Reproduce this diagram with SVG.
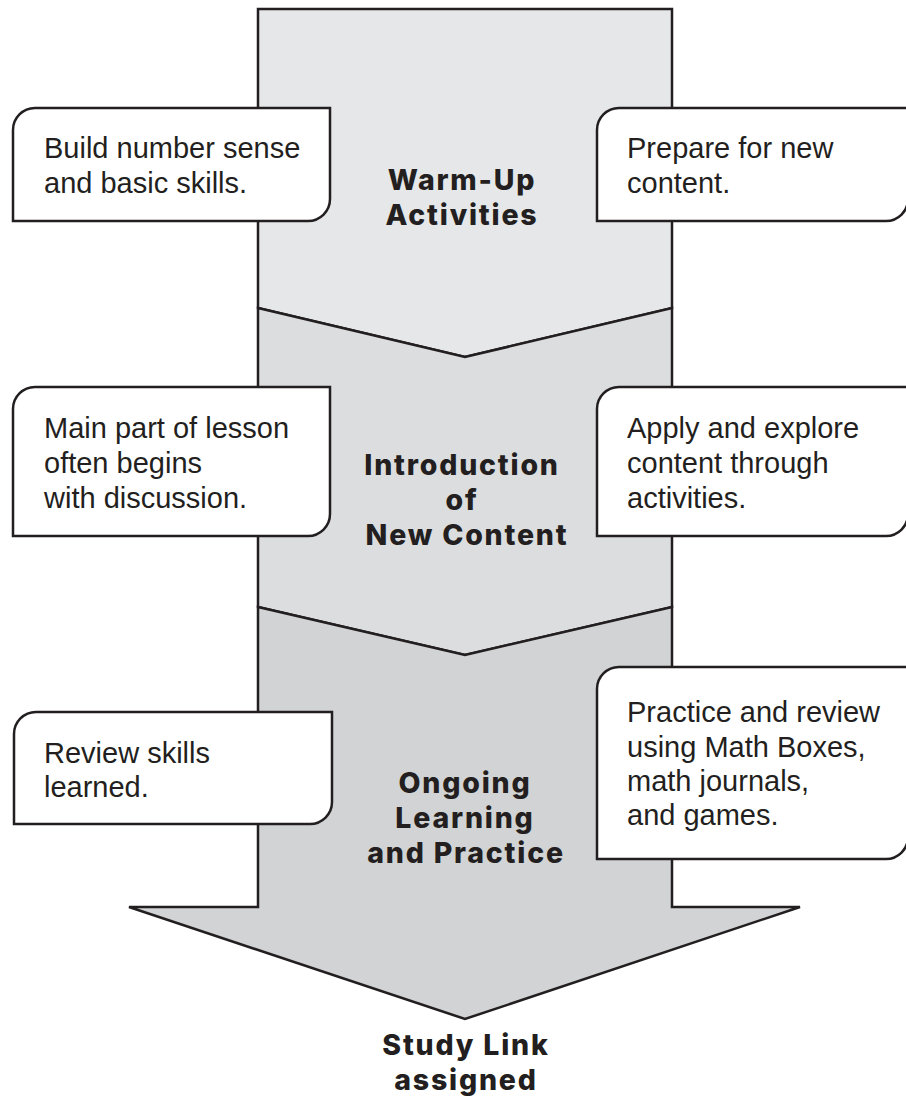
<svg xmlns="http://www.w3.org/2000/svg" width="906" height="1097" viewBox="0 0 906 1097">
<style>
.sec{stroke:#231f20;stroke-width:2.5;stroke-linejoin:miter}
.box{fill:#ffffff;stroke:#231f20;stroke-width:2.5}
.t{font-family:"Liberation Sans",Arial,sans-serif;font-size:29px;fill:#231f20}
.h{font-family:Inter,"Open Sans",sans-serif;font-weight:800;font-size:28.5px;letter-spacing:1.8px;fill:#231f20;text-anchor:middle}
</style>
<rect width="906" height="1097" fill="#ffffff"/>
<g id="column">
<g id="warmup">
<path class="sec" fill="#e6e7e8" d="M258,9 L672,9 L672,308 L465,357 L258,308 Z"/>
<text class="h" x="462" y="190">Warm-Up</text>
<text class="h" x="462" y="225">Activities</text>
</g>
<g id="intro">
<path class="sec" fill="#dcdddf" d="M258,308 L465,357 L672,308 L672,607 L465,655 L258,607 Z"/>
<text class="h" x="462" y="475">Introduction</text>
<text class="h" x="462" y="510">of</text>
<text class="h" x="467" y="545">New Content</text>
</g>
<g id="ongoing">
<path class="sec" fill="#d1d3d4" d="M258,607 L465,655 L672,607 L672,907 L800,907 L465,1019 L129,907 L258,907 Z"/>
<text class="h" x="465" y="793">Ongoing</text>
<text class="h" x="465" y="828">Learning</text>
<text class="h" x="466" y="863">and Practice</text>
</g>
</g>
<g id="connectors"></g>
<g id="studylink">
<text class="h" x="466" y="1055">Study Link</text>
<text class="h" x="466" y="1090">assigned</text>
</g>
<g id="box-build">
<path class="box" d="M13,221 L13,130 A22,22 0 0 1 35,108 L330,108 L330,199 A22,22 0 0 1 308,221 Z"/>
<text class="t" x="44" y="158">Build number sense</text>
<text class="t" x="44" y="193">and basic skills.</text>
</g>
<g id="box-prepare">
<path class="box" d="M597,221 L597,130 A22,22 0 0 1 619,108 L908,108 L908,199 A22,22 0 0 1 886,221 Z"/>
<text class="t" x="627" y="158">Prepare for new</text>
<text class="t" x="627" y="193">content.</text>
</g>
<g id="box-main">
<path class="box" d="M13,536 L13,409 A22,22 0 0 1 35,387 L330,387 L330,514 A22,22 0 0 1 308,536 Z"/>
<text class="t" x="44" y="438">Main part of lesson</text>
<text class="t" x="44" y="473">often begins</text>
<text class="t" x="44" y="508">with discussion.</text>
</g>
<g id="box-apply">
<path class="box" d="M597,536 L597,409 A22,22 0 0 1 619,387 L908,387 L908,514 A22,22 0 0 1 886,536 Z"/>
<text class="t" x="627" y="438">Apply and explore</text>
<text class="t" x="627" y="473">content through</text>
<text class="t" x="627" y="508">activities.</text>
</g>
<g id="box-review">
<path class="box" d="M14,824 L14,734 A22,22 0 0 1 36,712 L332,712 L332,802 A22,22 0 0 1 310,824 Z"/>
<text class="t" x="44" y="763">Review skills</text>
<text class="t" x="44" y="797">learned.</text>
</g>
<g id="box-practice">
<path class="box" d="M597,859 L597,689 A22,22 0 0 1 619,667 L908,667 L908,837 A22,22 0 0 1 886,859 Z"/>
<text class="t" x="627" y="722">Practice and review</text>
<text class="t" x="627" y="757">using Math Boxes,</text>
<text class="t" x="627" y="791">math journals,</text>
<text class="t" x="627" y="825">and games.</text>
</g>
</svg>
